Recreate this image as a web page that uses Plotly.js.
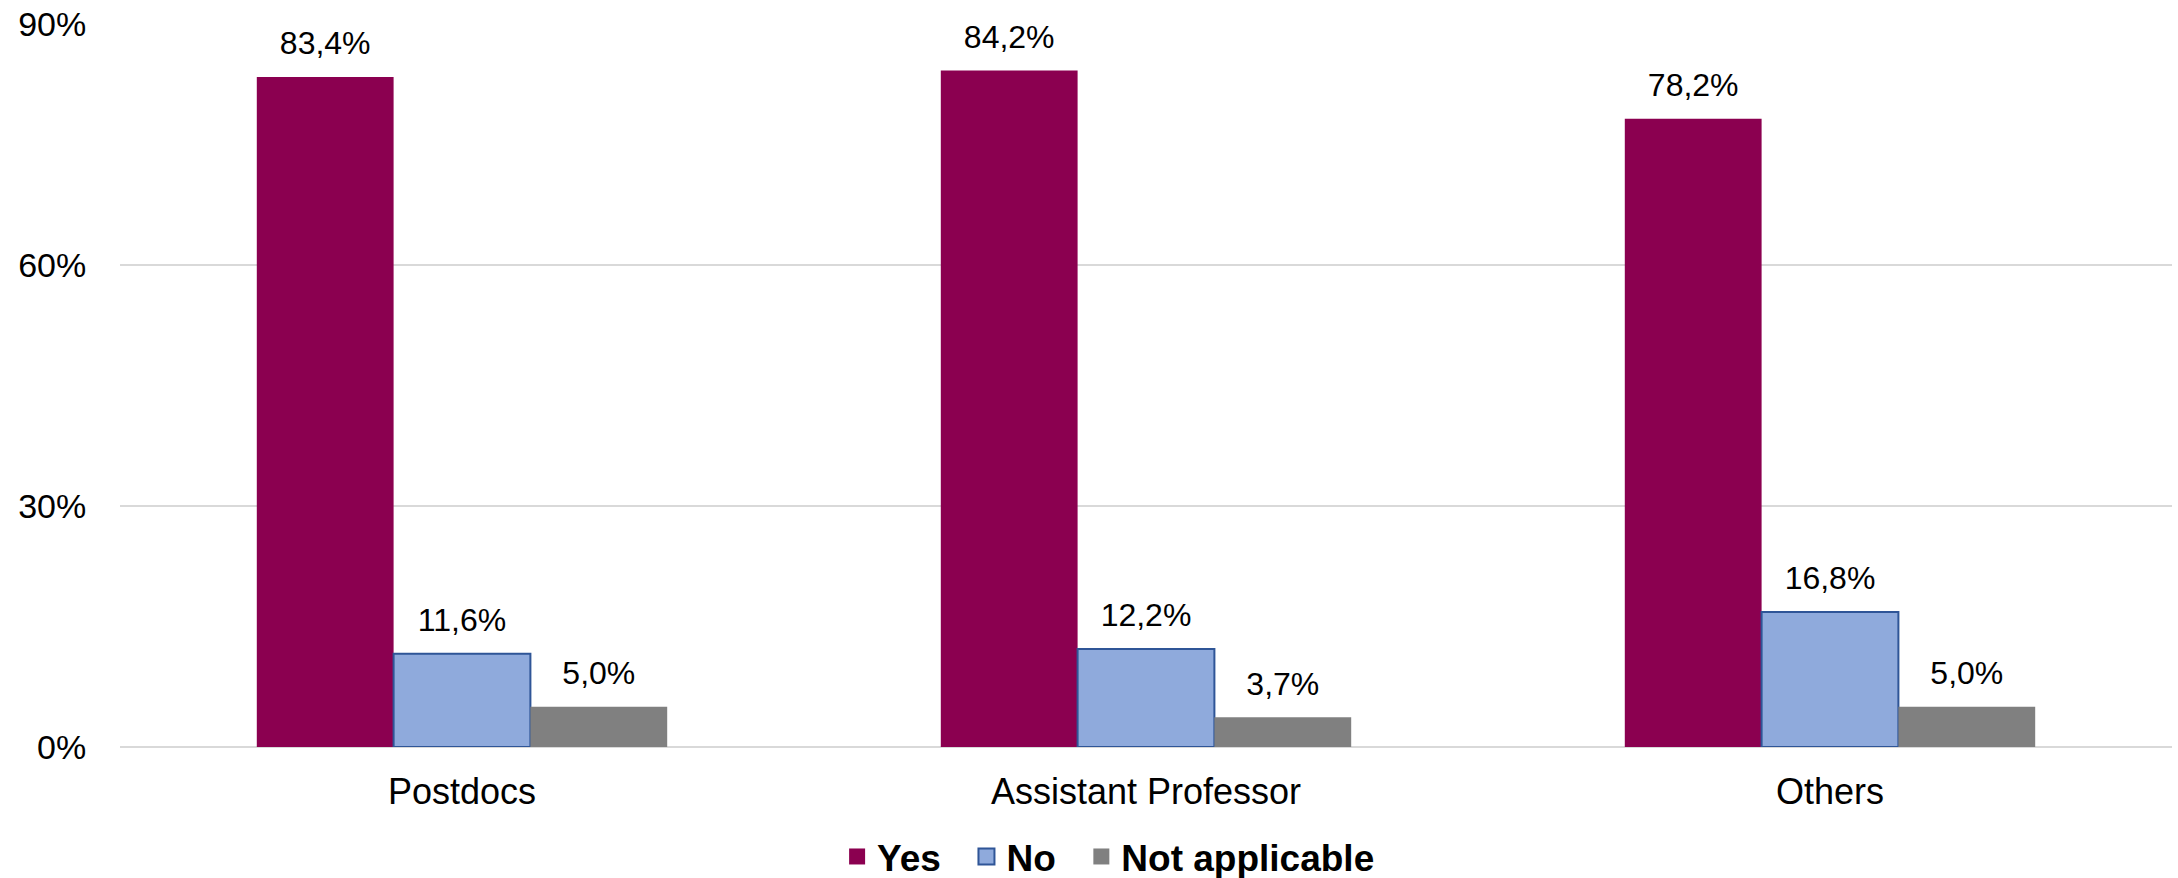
<!DOCTYPE html>
<html>
<head>
<meta charset="utf-8">
<script src="https://cdn.plot.ly/plotly-3.0.1.min.js"></script>
<style>
  html, body { margin: 0; padding: 0; background: #ffffff; }
  #chart { width: 2178px; height: 878px; }
</style>
</head>
<body>
<div id="chart"></div>
<script>
// ---- data ----
const categories = ["Postdocs", "Assistant Professor", "Others"];
const seriesNames = ["Yes", "No", "Not applicable"];
const yesValues = [83.4, 84.2, 78.2];
const noValues = [11.6, 12.2, 16.8];
const naValues = [5.0, 3.7, 5.0];
const yTickValues = [0, 30, 60, 90];
const yTickLabels = ["0%", "30%", "60%", "90%"];

// ---- styles ----
const fills = ["#8B0050", "#8FAADC", "#808080"];
const borders = ["#8B0050", "#2F5597", "#808080"];
const borderWidths = [0, 2, 0];
const seriesValues = [yesValues, noValues, naValues];
const FONT = "Liberation Sans, Arial, sans-serif";
const legendPad = "\u00a0\u00a0";

const traces = [];
// bars
seriesValues.forEach((vals, i) => {
  traces.push({
    type: "bar",
    x: categories,
    y: vals,
    name: seriesNames[i],
    offsetgroup: String(i),
    marker: { color: fills[i], line: { color: borders[i], width: borderWidths[i] } },
    showlegend: false,
    hoverinfo: "skip"
  });
});
// data labels (grouped scatter text aligned with bars)
seriesValues.forEach((vals, i) => {
  traces.push({
    type: "scatter",
    mode: "markers+text",
    x: categories,
    y: vals,
    offsetgroup: String(i),
    texttemplate: "%{y:.1f}%",
    textposition: "top center",
    textfont: { family: FONT, size: 32, color: "#000000" },
    marker: { size: 22, opacity: 0, color: fills[i] },
    cliponaxis: false,
    showlegend: false,
    hoverinfo: "skip"
  });
});
// legend entries
seriesValues.forEach((vals, i) => {
  traces.push({
    type: "scatter",
    mode: "markers",
    x: [null],
    y: [null],
    xaxis: "x2",
    yaxis: "y2",
    name: seriesNames[i] + (i < seriesNames.length - 1 ? legendPad : ""),
    marker: { symbol: "square", size: 16, color: fills[i], line: { color: borders[i], width: i === 1 ? 2 : 0 } },
    showlegend: true,
    hoverinfo: "skip"
  });
});

const layout = {
  width: 2178,
  height: 878,
  paper_bgcolor: "#ffffff",
  plot_bgcolor: "#ffffff",
  margin: { l: 120, r: 6, t: 24, b: 131, pad: 0, autoexpand: false },
  separators: ",.",
  barmode: "group",
  bargap: 0.4,
  bargroupgap: 0,
  scattermode: "group",
  scattergap: 0.4,
  font: { family: FONT, color: "#000000" },
  xaxis: {
    type: "category",
    showgrid: false,
    showline: false,
    zeroline: false,
    ticks: "outside",
    ticklen: 13,
    tickcolor: "rgba(0,0,0,0)",
    tickfont: { family: FONT, size: 36, color: "#000000" },
    fixedrange: true
  },
  yaxis: {
    range: [0, 90],
    tickvals: yTickValues,
    ticktext: yTickLabels,
    showgrid: true,
    gridcolor: "#D9D9D9",
    gridwidth: 2,
    zeroline: true,
    zerolinecolor: "#D9D9D9",
    zerolinewidth: 2,
    showline: false,
    ticks: "outside",
    ticklen: 26,
    tickcolor: "rgba(0,0,0,0)",
    tickfont: { family: FONT, size: 34, color: "#000000" },
    fixedrange: true
  },
  xaxis2: { visible: false, overlaying: "x", range: [0, 1] },
  yaxis2: { visible: false, overlaying: "y", range: [0, 1] },
  showlegend: true,
  legend: {
    orientation: "h",
    x: 0.509,
    xanchor: "center",
    xref: "container",
    yref: "container",
    y: 0.024,
    yanchor: "middle",
    font: { family: FONT, size: 37, color: "#000000", weight: "bold" },
    itemsizing: "trace",
    itemwidth: 30,
    tracegroupgap: 0
  }
};

Plotly.newPlot("chart", traces, layout, { displayModeBar: false, staticPlot: true });
</script>
</body>
</html>
